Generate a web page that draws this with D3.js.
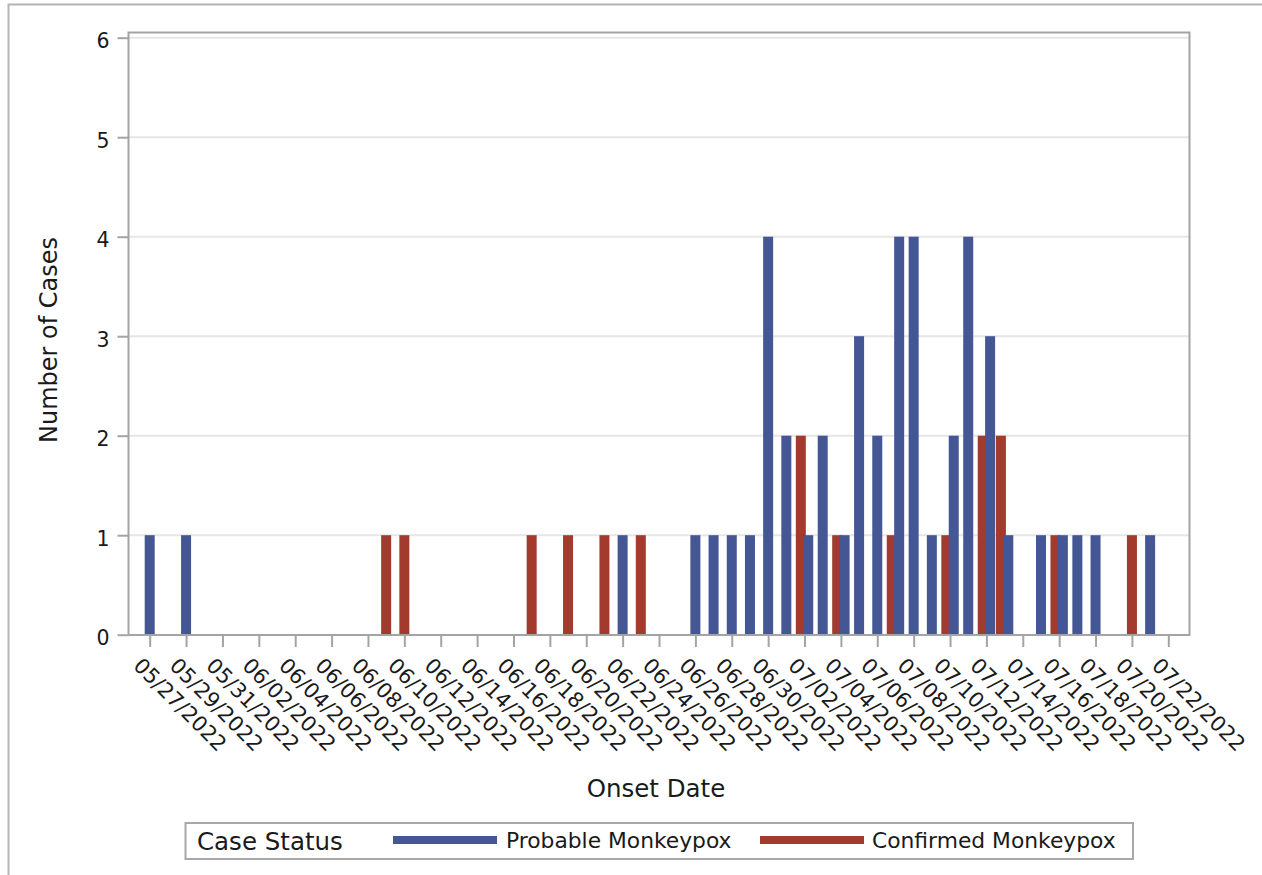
<!DOCTYPE html>
<html>
<head>
<meta charset="utf-8">
<script src="https://cdn.jsdelivr.net/npm/d3@7/dist/d3.min.js"></script>
<style>
  html, body { margin: 0; padding: 0; background: #fff; }
  svg { display: block; }
  text { font-family: "DejaVu Sans", "Liberation Sans", sans-serif; fill: #1a1a1a; }
</style>
</head>
<body>
<svg id="chart" width="1262" height="875"></svg>
<script>
// ---- Data ----
const dates = [
  "05/27/2022","05/28/2022","05/29/2022","05/30/2022","05/31/2022",
  "06/01/2022","06/02/2022","06/03/2022","06/04/2022","06/05/2022",
  "06/06/2022","06/07/2022","06/08/2022","06/09/2022","06/10/2022",
  "06/11/2022","06/12/2022","06/13/2022","06/14/2022","06/15/2022",
  "06/16/2022","06/17/2022","06/18/2022","06/19/2022","06/20/2022",
  "06/21/2022","06/22/2022","06/23/2022","06/24/2022","06/25/2022",
  "06/26/2022","06/27/2022","06/28/2022","06/29/2022","06/30/2022",
  "07/01/2022","07/02/2022","07/03/2022","07/04/2022","07/05/2022",
  "07/06/2022","07/07/2022","07/08/2022","07/09/2022","07/10/2022",
  "07/11/2022","07/12/2022","07/13/2022","07/14/2022","07/15/2022",
  "07/16/2022","07/17/2022","07/18/2022","07/19/2022","07/20/2022",
  "07/21/2022","07/22/2022"
];
const probable = [
  1,0,1,0,0,
  0,0,0,0,0,
  0,0,0,0,0,
  0,0,0,0,0,
  0,0,0,0,0,
  0,1,0,0,0,
  1,1,1,1,4,
  2,1,2,1,3,
  2,4,4,1,2,
  4,3,1,0,1,
  1,1,1,0,0,
  1,0
];
const confirmed = [
  0,0,0,0,0,
  0,0,0,0,0,
  0,0,0,1,1,
  0,0,0,0,0,
  0,1,0,1,0,
  1,0,1,0,0,
  0,0,0,0,0,
  0,2,0,1,0,
  0,1,0,0,1,
  0,2,2,0,0,
  1,0,0,0,1,
  0,0
];
const tickDates = ["05/27/2022","05/29/2022","05/31/2022","06/02/2022","06/04/2022","06/06/2022",
  "06/08/2022","06/10/2022","06/12/2022","06/14/2022","06/16/2022","06/18/2022","06/20/2022",
  "06/22/2022","06/24/2022","06/26/2022","06/28/2022","06/30/2022","07/02/2022","07/04/2022",
  "07/06/2022","07/08/2022","07/10/2022","07/12/2022","07/14/2022","07/16/2022","07/18/2022",
  "07/20/2022","07/22/2022"];
const yTicks = [0,1,2,3,4,5,6];
const seriesNames = ["Probable Monkeypox","Confirmed Monkeypox"];
const seriesColors = ["#445694","#A23A2E"];
const legendTitle = "Case Status";
const xTitle = "Onset Date";
const yTitle = "Number of Cases";

// ---- Layout ----
const svg = d3.select("#chart");
const plot = {left: 128.5, top: 32.5, right: 1189.5, bottom: 635};
const frameColor = "#a4a4a4";

// outer border
svg.append("rect").attr("x", 8.5).attr("y", 4.5).attr("width", 1300).attr("height", 900)
  .attr("fill", "none").attr("stroke", "#b4b4b4").attr("stroke-width", 2);

const x = d3.scalePoint().domain(dates).range([plot.left, plot.right]).padding(1.165);
const y = d3.scaleLinear().domain([0, 6]).range([634.7, 37.7]);

// gridlines
svg.append("g").selectAll("line").data(yTicks.filter(d => d > 0)).join("line")
  .attr("x1", plot.left).attr("x2", plot.right)
  .attr("y1", d => y(d)).attr("y2", d => y(d))
  .attr("stroke", "#e6e6e6").attr("stroke-width", 2);

// bars
const barW = 10, off = 3.7;
const rows = dates.map((d, i) => ({date: d, p: probable[i], c: confirmed[i]}));
const gBars = svg.append("g");
gBars.selectAll("rect.c").data(rows.filter(r => r.c > 0)).join("rect")
  .attr("class", "c")
  .attr("x", r => x(r.date) - barW / 2 - (r.p > 0 ? off : 0))
  .attr("width", barW)
  .attr("y", r => y(r.c))
  .attr("height", r => y(0) - y(r.c))
  .attr("fill", seriesColors[1]);
gBars.selectAll("rect.p").data(rows.filter(r => r.p > 0)).join("rect")
  .attr("class", "p")
  .attr("x", r => x(r.date) - barW / 2 + (r.c > 0 ? off : 0))
  .attr("width", barW)
  .attr("y", r => y(r.p))
  .attr("height", r => y(0) - y(r.p))
  .attr("fill", seriesColors[0]);

// frame
svg.append("rect").attr("x", plot.left).attr("y", plot.top)
  .attr("width", plot.right - plot.left).attr("height", plot.bottom - plot.top)
  .attr("fill", "none").attr("stroke", frameColor).attr("stroke-width", 2);

// y axis
const yAxis = svg.append("g").attr("transform", `translate(${plot.left},0)`)
  .call(d3.axisLeft(y).tickValues(yTicks).tickSize(11).tickPadding(8).tickFormat(d3.format("d")));
yAxis.select(".domain").remove();
yAxis.selectAll(".tick line").attr("stroke", frameColor).attr("stroke-width", 2);
yAxis.selectAll(".tick text").attr("font-size", 20.5).attr("fill", "#1a1a1a")
  .attr("dy", "0.5em").style("font-family", '"DejaVu Sans", sans-serif');

// x axis
const xAxis = svg.append("g").attr("transform", `translate(0,${plot.bottom})`)
  .call(d3.axisBottom(x).tickValues(tickDates).tickSize(12).tickFormat(d => d));
xAxis.select(".domain").remove();
xAxis.selectAll(".tick line").attr("stroke", frameColor).attr("stroke-width", 2);
xAxis.selectAll(".tick text")
  .attr("font-size", 21).attr("fill", "#1a1a1a")
  .attr("text-anchor", "start").attr("dy", null).attr("y", null)
  .attr("transform", "translate(-18,32) rotate(45)")
  .style("font-family", '"DejaVu Sans", sans-serif');

// axis titles
svg.append("text").attr("x", 656).attr("y", 797).attr("text-anchor", "middle")
  .attr("font-size", 24.5).text(xTitle);
svg.append("text").attr("transform", "translate(57,340) rotate(-90)").attr("text-anchor", "middle")
  .attr("font-size", 24).text(yTitle);

// legend
const lg = svg.append("g");
lg.append("rect").attr("x", 185.5).attr("y", 823).attr("width", 947.5).attr("height", 36)
  .attr("fill", "#fff").attr("stroke", "#a8a8a8").attr("stroke-width", 2);
lg.append("text").attr("x", 197).attr("y", 850).attr("font-size", 24.5).text(legendTitle);
const swX = [393, 760], txX = [506, 872];
seriesNames.forEach((n, i) => {
  lg.append("rect").attr("x", swX[i]).attr("y", 836).attr("width", 104).attr("height", 8)
    .attr("fill", seriesColors[i]);
  lg.append("text").attr("x", txX[i]).attr("y", 848).attr("font-size", 21.8).text(n);
});
</script>
</body>
</html>
